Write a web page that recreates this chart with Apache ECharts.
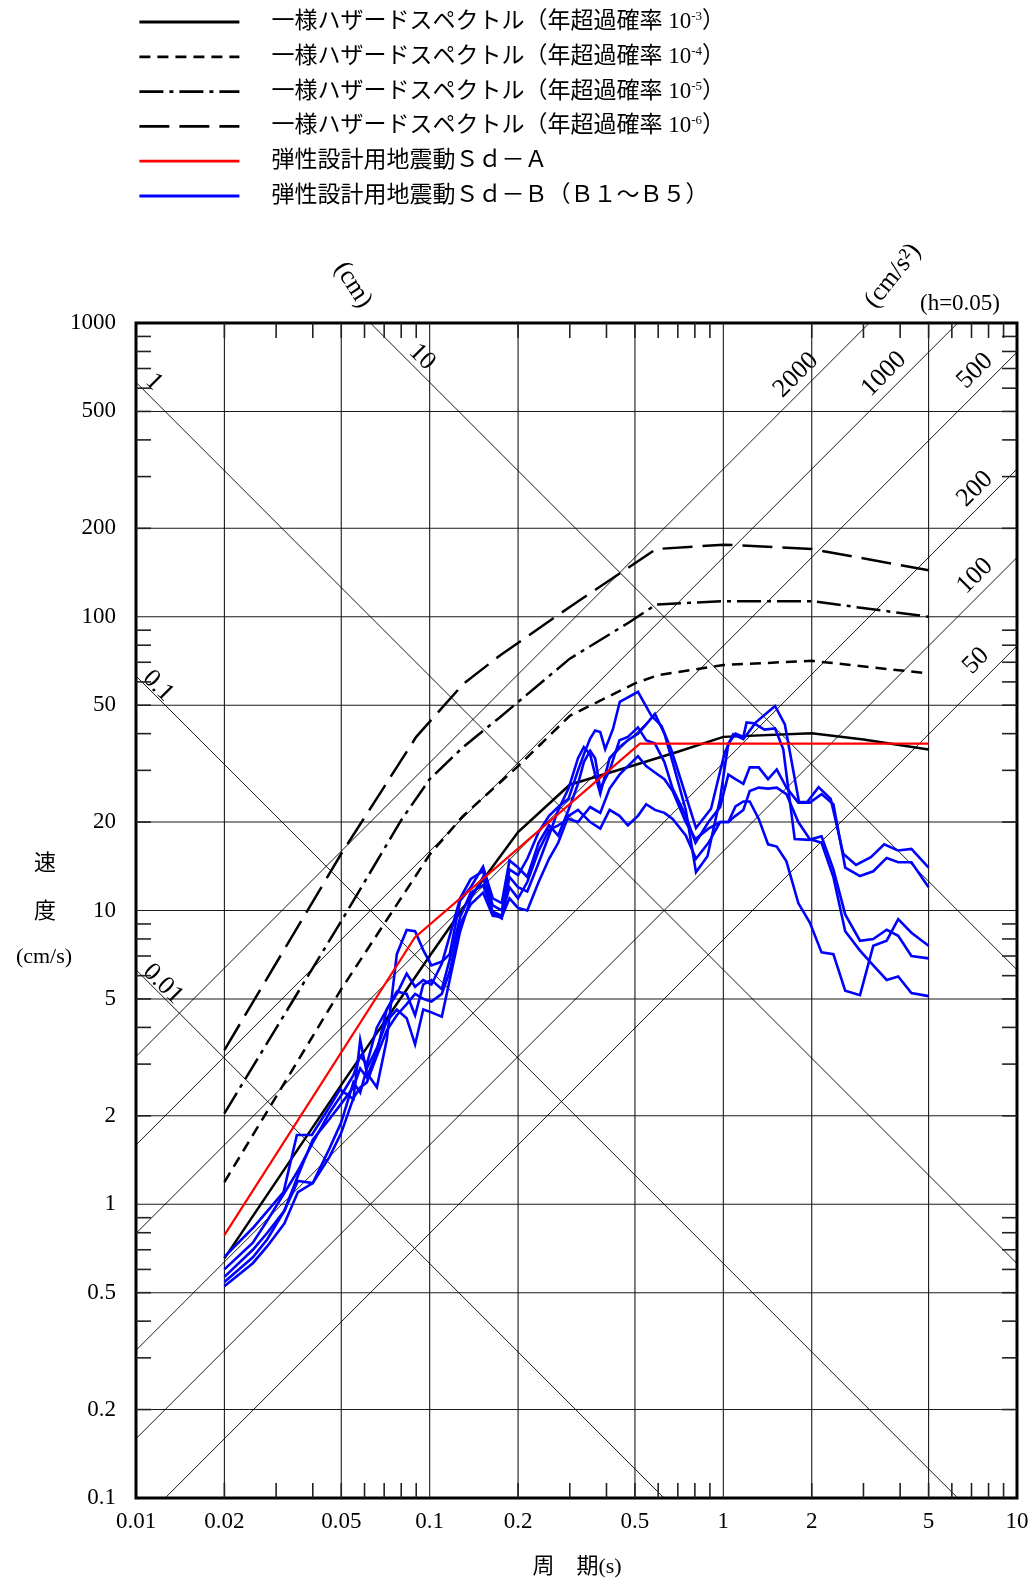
<!DOCTYPE html>
<html><head><meta charset="utf-8">
<script src="https://cdn.jsdelivr.net/npm/echarts@6/dist/echarts.min.js"></script>
<style>html,body{margin:0;padding:0;background:#fff}#c{width:1028px;height:1582px}</style>
</head><body><div id="c"></div>
<script>
// ---------- data ----------
const periodTicks = [0.01,0.02,0.05,0.1,0.2,0.5,1,2,5,10];
const periodTickLabels = ['0.01','0.02','0.05','0.1','0.2','0.5','1','2','5','10'];
const velTicks = [0.1,0.2,0.5,1,2,5,10,20,50,100,200,500,1000];
const velTickLabels = ['0.1','0.2','0.5','1','2','5','10','20','50','100','200','500','1000'];
const gridPeriods = [0.02,0.05,0.1,0.2,0.5,1,2,5];
const gridVels = [0.2,0.5,1,2,5,10,20,50,100,200,500];
const dispLines = [0.01,0.1,1,10];          // cm
const accLines = [50,100,200,500,1000,2000]; // cm/s2

const uhs3 = [[0.02,0.654],[0.05,2.55],[0.1,7.0],[0.15,12.5],[0.2,18.5],[0.3,26.8],[0.5,31.3],[0.7,34.7],[1.0,39.0],[2.0,40.1],[3.0,38.2],[5.0,35.3]];
const uhs4 = [[0.02,1.19],[0.05,5.4],[0.1,15.5],[0.13,21.0],[0.2,31.0],[0.3,46.0],[0.5,59.3],[0.6,63.3],[1.0,68.5],[2.0,70.8],[5.0,64.1]];
const uhs5 = [[0.02,2.04],[0.05,9.2],[0.08,20.3],[0.1,28.0],[0.13,36.0],[0.174,45.6],[0.3,72.0],[0.48,96.0],[0.59,110],[1.0,113],[2.0,113],[5.0,100]];
const uhs6 = [[0.02,3.35],[0.05,15.6],[0.09,39.0],[0.13,59.0],[0.174,74.0],[0.3,108],[0.48,148],[0.59,170],[1.0,176],[2.0,170],[5.0,144]];
const sdA = [[0.02,0.785],[0.089,8.1],[0.52,37.0],[5.0,37.0]];

const sdB1 = [[0.02,0.60],[0.025,0.74],[0.028,0.88],[0.0318,1.08],[0.0356,1.30],[0.04,1.62],[0.0456,2.05],[0.05,2.35],[0.055,2.75],[0.058,3.2],[0.0611,3.0],[0.0661,4.0],[0.0714,4.6],[0.0773,5.2],[0.0835,6.1],[0.0892,5.5],[0.0951,5.8],[0.1014,5.6],[0.11,6.6],[0.117,8.2],[0.127,11.0],[0.138,12.8],[0.152,13.6],[0.164,10.4],[0.176,10.0],[0.187,13.8],[0.2,13.2],[0.215,15.0],[0.235,18.5],[0.255,21.0],[0.274,22.5],[0.297,24.0],[0.32,30.0],[0.335,34.0],[0.352,38.5],[0.366,41.0],[0.381,40.5],[0.396,35.4],[0.421,41.5],[0.444,51.3],[0.512,55.5],[0.569,46.0],[0.616,42.5],[0.664,35.4],[0.727,26.6],[0.807,19.1],[0.908,22.2],[1.01,34.4],[1.08,39.8],[1.17,38.3],[1.29,43.7],[1.5,49.7],[1.62,43.0],[1.81,23.4],[1.93,23.4],[2.11,26.3],[2.32,24.0],[2.56,15.6],[2.83,14.3],[3.18,15.2],[3.53,16.8],[3.93,16.0],[4.37,16.2],[5.0,14.0]];
const sdB2 = [[0.02,0.662],[0.025,0.83],[0.0318,1.10],[0.0353,1.72],[0.0397,1.72],[0.0458,2.16],[0.0495,2.46],[0.055,2.28],[0.058,3.62],[0.0611,2.8],[0.0661,2.5],[0.0714,3.62],[0.0773,7.1],[0.0835,8.58],[0.0892,8.5],[0.0951,7.33],[0.1014,6.5],[0.1102,6.7],[0.117,7.1],[0.127,10.8],[0.138,12.0],[0.152,14.1],[0.164,11.0],[0.176,10.6],[0.187,14.8],[0.2,14.0],[0.215,13.0],[0.235,17.0],[0.255,19.5],[0.274,18.0],[0.297,22.0],[0.32,27.0],[0.335,32.0],[0.352,35.0],[0.366,33.0],[0.381,26.0],[0.41,30.0],[0.443,38.0],[0.473,39.0],[0.512,42.0],[0.546,38.0],[0.585,37.0],[0.63,32.0],[0.672,26.0],[0.745,21.0],[0.804,17.0],[0.89,20.0],[0.975,22.5],[1.04,29.0],[1.1,28.0],[1.17,27.0],[1.23,30.7],[1.32,30.7],[1.42,28.0],[1.52,30.2],[1.64,26.2],[1.8,23.3],[1.97,23.3],[2.16,24.9],[2.37,23.0],[2.6,14.0],[2.92,13.1],[3.24,13.6],[3.6,15.1],[3.94,14.6],[4.37,14.6],[5.0,12.0]];
const sdB3 = [[0.02,0.566],[0.025,0.70],[0.028,0.80],[0.032,0.95],[0.0356,1.25],[0.04,1.66],[0.0456,1.95],[0.05,2.2],[0.055,2.5],[0.058,2.9],[0.0611,2.7],[0.0661,3.3],[0.0714,4.6],[0.0773,5.3],[0.0835,5.2],[0.0892,4.4],[0.0951,5.6],[0.1014,5.8],[0.11,5.4],[0.117,6.8],[0.127,9.5],[0.138,11.5],[0.152,12.2],[0.164,9.9],[0.176,9.6],[0.187,12.0],[0.2,11.0],[0.215,12.5],[0.235,16.0],[0.255,18.8],[0.274,19.5],[0.297,20.5],[0.32,20.0],[0.352,22.5],[0.381,21.5],[0.41,26.0],[0.443,29.0],[0.473,31.0],[0.512,33.5],[0.546,31.0],[0.585,29.5],[0.63,28.0],[0.672,25.5],[0.745,20.0],[0.804,17.5],[0.89,19.0],[0.975,20.0],[1.04,20.0],[1.1,22.6],[1.17,23.5],[1.23,23.5],[1.32,20.5],[1.42,16.8],[1.52,16.5],[1.64,14.7],[1.8,10.6],[1.97,9.1],[2.16,7.2],[2.37,7.1],[2.6,5.33],[2.92,5.15],[3.24,7.58],[3.6,7.89],[3.94,9.34],[4.37,8.4],[5.0,7.59]];
const sdB4 = [[0.02,0.544],[0.025,0.66],[0.028,0.76],[0.032,0.95],[0.0356,1.2],[0.04,1.18],[0.0456,1.55],[0.05,1.9],[0.055,2.6],[0.058,2.4],[0.0611,2.9],[0.0661,3.4],[0.0714,4.2],[0.0773,4.6],[0.0835,4.3],[0.0892,3.5],[0.0951,4.6],[0.1014,4.5],[0.11,4.35],[0.117,5.8],[0.127,8.5],[0.138,11.0],[0.152,13.0],[0.164,9.8],[0.176,9.4],[0.187,13.0],[0.2,12.0],[0.215,11.6],[0.235,14.5],[0.255,18.0],[0.274,22.0],[0.297,26.0],[0.32,33.0],[0.335,36.0],[0.352,34.0],[0.366,29.0],[0.381,25.0],[0.41,33.0],[0.443,36.0],[0.473,38.0],[0.512,40.0],[0.546,43.0],[0.585,46.7],[0.63,40.0],[0.672,32.0],[0.745,22.0],[0.807,13.5],[0.883,15.3],[0.975,24.0],[1.04,37.0],[1.1,40.0],[1.17,39.0],[1.2,43.7],[1.27,43.4],[1.38,41.3],[1.5,41.7],[1.6,35.4],[1.75,17.5],[1.96,17.4],[2.16,17.9],[2.37,13.8],[2.6,9.7],[2.92,7.89],[3.24,8.0],[3.6,8.6],[3.94,8.2],[4.37,7.0],[5.0,6.87]];
const sdB5 = [[0.02,0.526],[0.025,0.63],[0.028,0.72],[0.032,0.86],[0.0356,1.1],[0.04,1.18],[0.0456,1.45],[0.05,1.75],[0.055,2.3],[0.058,2.5],[0.0611,2.6],[0.0661,3.2],[0.0714,3.9],[0.0773,4.4],[0.0835,4.8],[0.0892,5.2],[0.0951,5.0],[0.1014,4.9],[0.11,5.2],[0.117,6.2],[0.127,9.0],[0.138,10.5],[0.152,11.5],[0.164,9.6],[0.176,9.5],[0.187,11.0],[0.2,10.2],[0.215,10.0],[0.235,12.5],[0.255,15.0],[0.274,17.0],[0.297,21.0],[0.32,22.0],[0.352,20.0],[0.381,19.0],[0.41,22.0],[0.443,21.0],[0.473,19.5],[0.512,21.0],[0.546,23.0],[0.585,22.0],[0.63,21.5],[0.672,20.5],[0.745,18.0],[0.807,15.0],[0.89,17.0],[0.975,20.0],[1.04,20.0],[1.1,21.0],[1.17,22.0],[1.23,25.5],[1.32,26.2],[1.42,26.0],[1.52,26.2],[1.64,24.9],[1.8,20.0],[1.97,17.5],[2.16,17.0],[2.37,13.0],[2.6,8.5],[2.92,7.3],[3.24,6.5],[3.6,5.8],[3.94,5.96],[4.37,5.24],[5.0,5.11]];

const N3 = '一様ハザードスペクトル（年超過確率 10-3）';
const N4 = '一様ハザードスペクトル（年超過確率 10-4）';
const N5 = '一様ハザードスペクトル（年超過確率 10-5）';
const N6 = '一様ハザードスペクトル（年超過確率 10-6）';
const NA = '弾性設計用地震動Ｓｄ－Ａ';
const NB = '弾性設計用地震動Ｓｄ－Ｂ（Ｂ１～Ｂ５）';

// ---------- helpers ----------
const SERIF = '"Liberation Serif","Noto Sans CJK JP"';
const TICK_LEN = 15;
const minorT = []; [0.01,0.1,1].forEach(d => { for (let k = 2; k <= 9; k++) minorT.push(+(d*k).toPrecision(3)); });
const minorV = []; [0.1,1,10,100].forEach(d => { for (let k = 2; k <= 9; k++) minorV.push(+(d*k).toPrecision(3)); });

function txt(text, x, y, size, rot, align) {
  return {type:'text', x:x, y:y, rotation: rot || 0, silent:true,
    style:{text:text, font: size + 'px ' + SERIF, fill:'#000', textFill:'#000',
      align: align || 'center', textAlign: align || 'center', verticalAlign:'middle', textVerticalAlign:'middle'}};
}

const series = [];
const black = '#000';
function curve(name, data, color, width, type, z) {
  series.push({name:name, type:'line', data:data, symbol:'none', showSymbol:false, silent:true, z:z||5,
    lineStyle:{color:color, width:width, type:type||'solid', cap:'butt', join:'miter'}, itemStyle:{color:color}, animation:false});
}

// grid lines
series.push({type:'custom', silent:true, z:1, animation:false,
  data: gridPeriods.map(t => [t, 1, 0]).concat(gridVels.map(v => [1, v, 1])),
  renderItem: (params, api) => {
    let p1, p2;
    if (api.value(2) === 0) { p1 = api.coord([api.value(0), 0.1]); p2 = api.coord([api.value(0), 1000]); }
    else { p1 = api.coord([0.01, api.value(1)]); p2 = api.coord([10, api.value(1)]); }
    return {type:'line', shape:{x1:p1[0], y1:p1[1], x2:p2[0], y2:p2[1]}, style:{stroke:'#1a1a1a', lineWidth:1.1}};
  }});
// minor ticks
series.push({type:'custom', silent:true, z:2, animation:false,
  data: minorT.map(t => [t, 1, 0]).concat(minorV.map(v => [1, v, 1])),
  renderItem: (params, api) => {
    const st = {stroke:'#222', lineWidth:1.6};
    if (api.value(2) === 0) {
      const x = api.coord([api.value(0), 1])[0];
      const yb = api.coord([1, 0.1])[1], yt = api.coord([1, 1000])[1];
      return {type:'group', children:[
        {type:'line', shape:{x1:x, y1:yb, x2:x, y2:yb - TICK_LEN}, style:st},
        {type:'line', shape:{x1:x, y1:yt, x2:x, y2:yt + TICK_LEN}, style:st}]};
    } else {
      const y = api.coord([1, api.value(1)])[1];
      const xl = api.coord([0.01, 1])[0], xr = api.coord([10, 1])[0];
      return {type:'group', children:[
        {type:'line', shape:{x1:xl, y1:y, x2:xl + TICK_LEN, y2:y}, style:st},
        {type:'line', shape:{x1:xr, y1:y, x2:xr - TICK_LEN, y2:y}, style:st}]};
    }
  }});
// tick labels
series.push({type:'custom', silent:true, z:2, animation:false,
  data: periodTicks.map(t => [t, 1]),
  renderItem: (params, api) => {
    const p = api.coord([api.value(0), 0.1]);
    return txt(periodTickLabels[params.dataIndex], p[0], p[1] + 24, 23);
  }});
series.push({type:'custom', silent:true, z:2, animation:false,
  data: velTicks.map(v => [1, v]),
  renderItem: (params, api) => {
    const p = api.coord([0.01, api.value(1)]);
    return txt(velTickLabels[params.dataIndex], p[0] - 20, p[1], 23, 0, 'right');
  }});
// tripartite diagonals
dispLines.forEach(D => {
  series.push({type:'line', data:[[0.01, 2*Math.PI*D/0.01],[10, 2*Math.PI*D/10]], symbol:'none', silent:true, z:1, clip:true,
    lineStyle:{color:'#000', width:0.9}, animation:false});
});
accLines.forEach(A => {
  series.push({type:'line', data:[[0.01, A*0.01/(2*Math.PI)],[10, A*10/(2*Math.PI)]], symbol:'none', silent:true, z:1, clip:true,
    lineStyle:{color:'#000', width:0.9}, animation:false});
});

curve(N3, uhs3, black, 2.5, 'solid', 4);
curve(N4, uhs4, black, 2.5, [11,7], 4);
curve(N5, uhs5, black, 2.5, [24,6,4,6], 4);
curve(N6, uhs6, black, 2.5, [30,10], 4);
[sdB1, sdB2, sdB3, sdB4, sdB5].forEach(d => curve(NB, d, '#0000ff', 2.6, 'solid', 5));
curve(NA, sdA, '#ff0000', 2.2, 'solid', 6);

const R = Math.PI / 4;
const option = {
  backgroundColor:'#fff',
  animation:false,
  grid:{left:136, top:323, width:881, height:1175, show:true, borderColor:'#000', borderWidth:3, backgroundColor:'rgba(0,0,0,0)', containLabel:false},
  xAxis:{type:'log', logBase:10, min:0.01, max:10, axisLine:{show:false}, axisTick:{show:false}, axisLabel:{show:false}, splitLine:{show:false}, minorTick:{show:false}},
  yAxis:{type:'log', logBase:10, min:0.1, max:1000, axisLine:{show:false}, axisTick:{show:false}, axisLabel:{show:false}, splitLine:{show:false}, minorTick:{show:false}},
  legend:{
    data:[N3,N4,N5,N6,NA,NB], orient:'vertical', left:133, top:5, itemWidth:100, itemHeight:14, itemGap:10.8,
    selectedMode:false,
    lineStyle:{width:2.8},
    itemStyle:{color:'rgba(0,0,0,0)', borderColor:'rgba(0,0,0,0)', borderWidth:0},
    formatter: name => {
      const m = name.match(/^(.*10)(-\d)(）)$/);
      return m ? (m[1] + '{s|' + m[2] + '}' + m[3]) : name;
    },
    textStyle:{fontSize:23, fontFamily:SERIF, color:'#000', lineHeight:24, padding:[0,0,0,27],
      rich:{s:{fontSize:13, lineHeight:12, verticalAlign:'top', fontFamily:SERIF, color:'#000'}}}
  },
  graphic:[
    txt('(cm)', 353, 285, 26, -1.0),
    txt('(cm/s²)', 893, 276, 26, 0.9),
    txt('(h=0.05)', 960, 304, 23),
    txt('1', 154, 382, 26, -R),
    txt('0.1', 158, 686, 26, -R),
    txt('0.01', 163, 984, 26, -R),
    txt('10', 422, 357, 26, -R),
    txt('2000', 796, 375, 26, R),
    txt('1000', 884, 374, 26, R),
    txt('500', 975, 371, 26, R),
    txt('200', 975, 489, 26, R),
    txt('100', 975, 576, 26, R),
    txt('50', 976, 661, 26, R),
    txt('速', 45, 864, 22),
    txt('度', 45, 912, 22),
    txt('(cm/s)', 44, 957, 22),
    txt('周　期(s)', 577, 1567, 22)
  ],
  series: series
};
const chart = echarts.init(document.getElementById('c'), null, {renderer:'canvas', width:1028, height:1582});
chart.setOption(option);
</script></body></html>
